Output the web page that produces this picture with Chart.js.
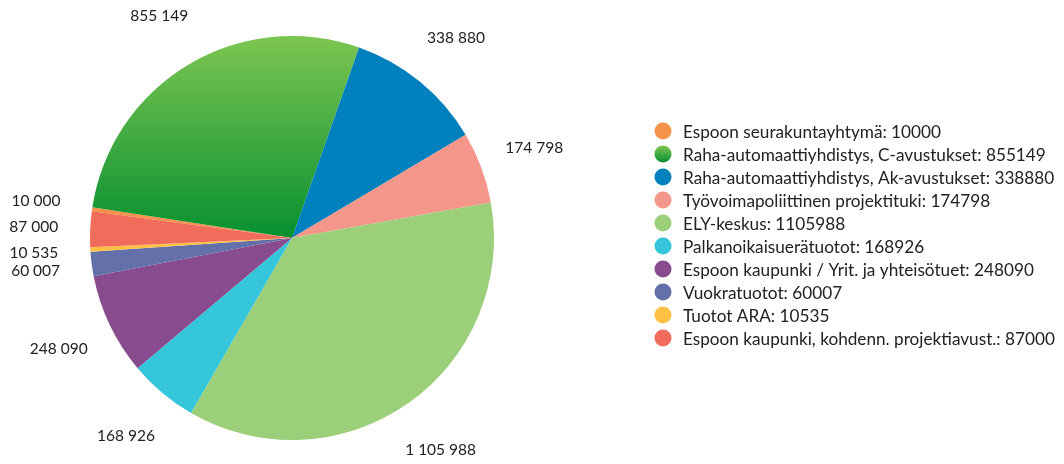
<!DOCTYPE html>
<html>
<head>
<meta charset="utf-8">
<script src="https://cdn.jsdelivr.net/npm/chart.js@4.4.0/dist/chart.umd.min.js"></script>
<style>
  html, body { margin: 0; padding: 0; background: #fff; }
  #wrap { width: 1064px; height: 464px; position: relative; }
</style>
</head>
<body>
<div id="wrap"><canvas id="pie"></canvas></div>
<script>
const labels = [
  "Espoon seurakuntayhtymä",
  "Raha-automaattiyhdistys, C-avustukset",
  "Raha-automaattiyhdistys, Ak-avustukset",
  "Työvoimapoliittinen projektituki",
  "ELY-keskus",
  "Palkanoikaisuerätuotot",
  "Espoon kaupunki / Yrit. ja yhteisötuet",
  "Vuokratuotot",
  "Tuotot ARA",
  "Espoon kaupunki, kohdenn. projektiavust."
];
const values = [10000, 855149, 338880, 174798, 1105988, 168926, 248090, 60007, 10535, 87000];
const colors = ["#f5934a", "#3aa943", "#0081bd", "#f4968a", "#9bcf7a", "#35c6db", "#884b8e", "#6370aa", "#fec145", "#f26c5c"];

const FONT = "Lato";

function fmt(n) {
  return String(n).replace(/\B(?=(\d{3})+(?!\d))/g, " ");
}

// value labels outside each slice
const outLabels = {
  id: "outLabels",
  afterDatasetsDraw(chart) {
    const ctx = chart.ctx;
    const meta = chart.getDatasetMeta(0);
    ctx.save();
    ctx.font = "15.5px " + FONT;
    ctx.fillStyle = "#222";
    ctx.textAlign = "center";
    ctx.textBaseline = "middle";
    meta.data.forEach((arc, i) => {
      const p = arc.getProps(["x", "y", "startAngle", "endAngle", "outerRadius"], true);
      const mid = (p.startAngle + p.endAngle) / 2;
      const r = p.outerRadius * 1.28;
      ctx.fillText(fmt(values[i]), p.x + Math.cos(mid) * r, p.y + Math.sin(mid) * r);
    });
    ctx.restore();
  }
};

// legend drawn at the right
const sideLegend = {
  id: "sideLegend",
  afterDraw(chart) {
    const ctx = chart.ctx;
    ctx.save();
    ctx.font = "17.2px " + FONT;
    ctx.textBaseline = "middle";
    ctx.textAlign = "left";
    labels.forEach((l, i) => {
      const y = 131 + i * 23;
      ctx.beginPath();
      ctx.arc(663, y, 8.5, 0, Math.PI * 2);
      ctx.fillStyle = i === 1 ? greenGrad(ctx, y - 8, y + 8) : colors[i];
      ctx.fill();
      ctx.fillStyle = "#222";
      ctx.fillText(l + ": " + values[i], 683, y + 1);
    });
    ctx.restore();
  }
};

function greenGrad(ctx, y0, y1) {
  const g = ctx.createLinearGradient(0, y0, 0, y1);
  g.addColorStop(0, "#7cc551");
  g.addColorStop(1, "#079030");
  return g;
}

new Chart(document.getElementById("pie"), {
  type: "pie",
  data: {
    labels: labels,
    datasets: [{
      data: values,
      borderWidth: 0,
      backgroundColor: (c) => {
        if (c.dataIndex === 1) {
          const area = c.chart.chartArea;
          if (!area) return colors[1];
          return greenGrad(c.chart.ctx, area.top, area.top + area.height / 2);
        }
        return colors[c.dataIndex];
      }
    }]
  },
  options: {
    responsive: true,
    maintainAspectRatio: false,
    animation: false,
    rotation: -82.4,
    layout: { padding: { left: 90, right: 570, top: 36, bottom: 24 } },
    plugins: {
      legend: { display: false },
      tooltip: { enabled: false }
    }
  },
  plugins: [outLabels, sideLegend]
});
</script>
</body>
</html>
